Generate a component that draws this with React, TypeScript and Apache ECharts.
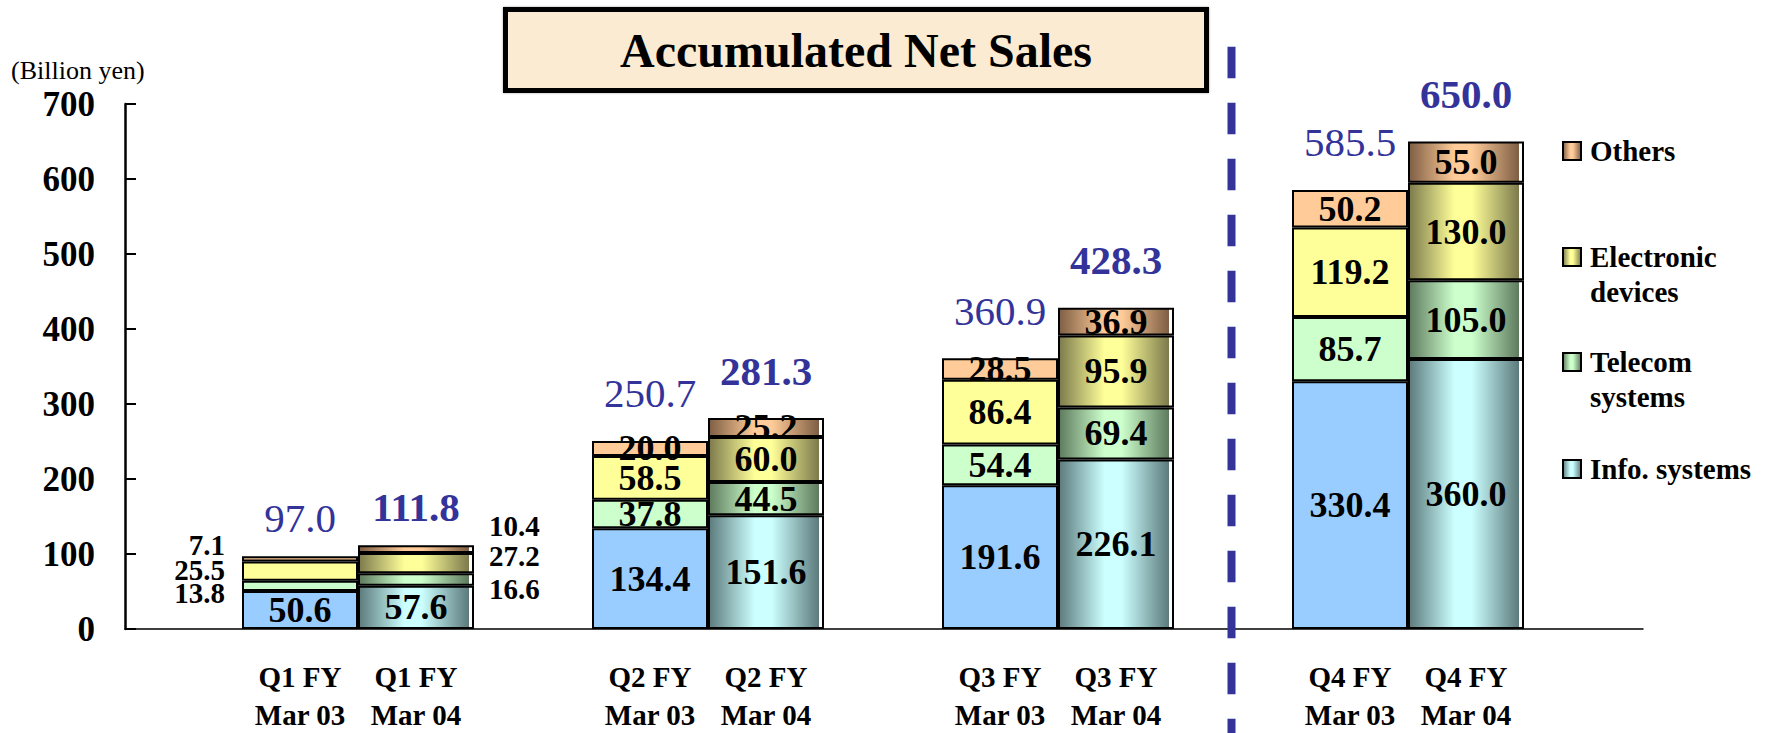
import React, { useEffect, useRef } from "react";
import * as echarts from "echarts";

// ---------- data ----------
const quarters = ["Q1", "Q2", "Q3", "Q4"];
const years = ["Mar 03", "Mar 04"];
const segments = ["Info. systems", "Telecom systems", "Electronic devices", "Others"];

const info03 = [50.6, 134.4, 191.6, 330.4];
const telecom03 = [13.8, 37.8, 54.4, 85.7];
const electronic03 = [25.5, 58.5, 86.4, 119.2];
const others03 = [7.1, 20.0, 28.5, 50.2];
const total03 = [97.0, 250.7, 360.9, 585.5];

const info04 = [57.6, 151.6, 226.1, 360.0];
const telecom04 = [16.6, 44.5, 69.4, 105.0];
const electronic04 = [27.2, 60.0, 95.9, 130.0];
const others04 = [10.4, 25.2, 36.9, 55.0];
const total04 = [111.8, 281.3, 428.3, 650.0];

const yMin = 0;
const yMax = 700;
const yStep = 100;
const unitLabel = "(Billion yen)";
const titleText = "Accumulated Net Sales";

// ---------- styles ----------
const SERIF = "'Liberation Serif', 'Times New Roman', serif";
const BLUE = "#333399";
const flat = ["#99CCFF", "#CCFFCC", "#FFFF99", "#FFCC99"];
const light04 = ["#CCFFFF", "#CCFFCC", "#FFFF99", "#FFCC99"];
const darkEdge = ["#5C7A7C", "#5E7A5E", "#7C7A4C", "#7E5E44"];

function grad(light: string, dk: string, strip = true) {
  const stops: any[] = [
    { offset: 0, color: dk },
    { offset: 0.4, color: light },
    { offset: 0.55, color: light },
  ];
  if (strip) {
    stops.push({ offset: 0.965, color: dk }, { offset: 0.965, color: "#ffffff" }, { offset: 1, color: "#ffffff" });
  } else {
    stops.push({ offset: 1, color: dk });
  }
  return new echarts.graphic.LinearGradient(0, 0, 1, 0, stops);
}

// Q1 side-label placement (style only)
const sideOffset03 = [null, 7, -1, -14];
const sideOffset04 = [null, 9, -7, -23];

function segSeries(segIdx: number, values: number[], stack: string, color: any, side: "left" | "right") {
  const offs = side === "left" ? sideOffset03 : sideOffset04;
  return {
    type: "bar",
    name: segments[segIdx],
    stack,
    xAxisIndex: 1,
    yAxisIndex: 1,
    barWidth: 116,
    barGap: "0%",
    itemStyle: { color, borderColor: "#000", borderWidth: 2 },
    label: {
      show: true,
      position: "inside",
      fontSize: 36,
      lineHeight: 28,
      fontWeight: "bold",
      fontFamily: SERIF,
      color: "#000",
      textBorderWidth: 0,
      formatter: (p: any) => Number(p.value).toFixed(1),
    },
    data: values.map((v, i) =>
      i === 0 && offs[segIdx] !== null
        ? {
            value: v,
            label: {
              position: side,
              distance: side === "left" ? 17 : 15,
              offset: [0, offs[segIdx]],
              fontSize: 29,
              lineHeight: 22,
            },
          }
        : v
    ),
  };
}

function totalSeries(name: string, totals: number[], stack: string, bold: boolean) {
  return {
    type: "bar",
    name,
    stack,
    xAxisIndex: 1,
    yAxisIndex: 1,
    barWidth: 116,
    barGap: "0%",
    itemStyle: { color: "rgba(0,0,0,0)", borderWidth: 0 },
    label: {
      show: true,
      position: "top",
      distance: 27,
      fontSize: 41,
      fontWeight: bold ? "bold" : "normal",
      fontFamily: SERIF,
      color: BLUE,
      textBorderWidth: 0,
      formatter: (p: any) => totals[p.dataIndex].toFixed(1),
    },
    data: totals.map((_, i) => ({ value: 0, label: { distance: i === 0 ? 18 : 27 } })),
  };
}

const legendOrder = [3, 2, 1, 0];
const legendTops = [133.5, 204.5, 309.5, 451.5];
const legendText: Record<string, string> = {
  "Electronic devices": "\nElectronic\ndevices",
  "Telecom systems": "\nTelecom\nsystems",
};

export default function App() {
  const ref = useRef<HTMLDivElement>(null);

  useEffect(() => {
    if (!ref.current) return;
    const chart = echarts.init(ref.current, undefined, { renderer: "svg" });

    const series: any[] = [
      segSeries(0, info03, "a", flat[0], "left"),
      segSeries(1, telecom03, "a", flat[1], "left"),
      segSeries(2, electronic03, "a", flat[2], "left"),
      segSeries(3, others03, "a", flat[3], "left"),
      totalSeries("Total Mar 03", total03, "a", false),
      segSeries(0, info04, "b", grad(light04[0], darkEdge[0]), "right"),
      segSeries(1, telecom04, "b", grad(light04[1], darkEdge[1]), "right"),
      segSeries(2, electronic04, "b", grad(light04[2], darkEdge[2]), "right"),
      segSeries(3, others04, "b", grad(light04[3], darkEdge[3]), "right"),
      totalSeries("Total Mar 04", total04, "b", true),
    ];

    const legends = legendOrder.map((segIdx, k) => ({
      show: true,
      orient: "vertical",
      left: 1562,
      top: legendTops[k],
      padding: 0,
      itemWidth: 18,
      itemHeight: 18,
      selectedMode: false,
      icon: "rect",
      data: [
        {
          name: segments[segIdx],
          itemStyle: {
            color: grad(light04[segIdx], darkEdge[segIdx], false),
            borderColor: "#000",
            borderWidth: 2,
          },
        },
      ],
      formatter: (name: string) => legendText[name] ?? name,
      textStyle: {
        fontSize: 29,
        fontWeight: "bold",
        fontFamily: SERIF,
        color: "#000",
        lineHeight: 35,
        padding: [0, 0, 0, 4],
      },
    }));

    const axisGridCommon = { top: 104, bottom: 104, containLabel: false, outerBoundsMode: "none" };

    chart.setOption({
      animation: false,
      backgroundColor: "#ffffff",
      grid: [
        { ...axisGridCommon, left: 125, right: 124 },
        { ...axisGridCommon, left: 183, right: 184 },
      ],
      legend: legends,
      xAxis: [
        {
          type: "value",
          gridIndex: 0,
          min: 0,
          max: 1,
          axisLine: { show: true, lineStyle: { color: "#000", width: 1.5 } },
          axisTick: { show: false },
          axisLabel: { show: false },
          splitLine: { show: false },
        },
        {
          type: "category",
          gridIndex: 1,
          data: quarters,
          axisLine: { show: false },
          axisTick: { show: false },
          splitLine: { show: false },
          axisLabel: {
            interval: 0,
            margin: 29,
            formatter: (v: string) =>
              `{a|${v} FY}{b|${v} FY}\n{a|${years[0]}}{b|${years[1]}}`,
            rich: {
              a: { width: 116, align: "center", fontSize: 29, fontWeight: "bold", fontFamily: SERIF, color: "#000", lineHeight: 38 },
              b: { width: 116, align: "center", fontSize: 29, fontWeight: "bold", fontFamily: SERIF, color: "#000", lineHeight: 38 },
            },
          },
        },
      ],
      yAxis: [
        {
          type: "value",
          gridIndex: 0,
          min: yMin,
          max: yMax,
          interval: yStep,
          axisLine: { show: true, lineStyle: { color: "#000", width: 2.5 } },
          axisTick: { show: true, inside: true, length: 11, lineStyle: { color: "#000", width: 2 } },
          axisLabel: { fontSize: 35, fontWeight: "bold", fontFamily: SERIF, color: "#000", margin: 30 },
          splitLine: { show: false },
        },
        {
          type: "value",
          gridIndex: 1,
          min: yMin,
          max: yMax,
          interval: yStep,
          show: false,
          splitLine: { show: false },
        },
      ],
      series,
      graphic: [
        {
          type: "rect",
          shape: { x: 505.5, y: 9.5, width: 701, height: 81 },
          style: { fill: "#FBEBD2", stroke: "#000", lineWidth: 5, shadowBlur: 2, shadowColor: "rgba(0,0,0,0.35)" },
          z: 5,
        },
        {
          type: "text",
          x: 856,
          y: 50,
          style: {
            text: titleText,
            fontSize: 48,
            fontWeight: "bold",
            fontFamily: SERIF,
            fill: "#000",
            align: "center",
            verticalAlign: "middle",
          },
          z: 6,
        },
        {
          type: "text",
          x: 11,
          y: 70,
          style: {
            text: unitLabel,
            fontSize: 26,
            fontFamily: SERIF,
            fill: "#000",
            align: "left",
            verticalAlign: "middle",
          },
        },
        {
          type: "line",
          shape: { x1: 1231.5, y1: 46.7, x2: 1231.5, y2: 745 },
          style: { stroke: BLUE, lineWidth: 8, lineDash: [31.6, 24.4] },
          z: 10,
        },
      ],
    });

    return () => chart.dispose();
  }, []);

  return (
    <div
      ref={ref}
      style={{ position: "fixed", left: 0, top: 0, width: 1767, height: 733, background: "#fff" }}
    />
  );
}
